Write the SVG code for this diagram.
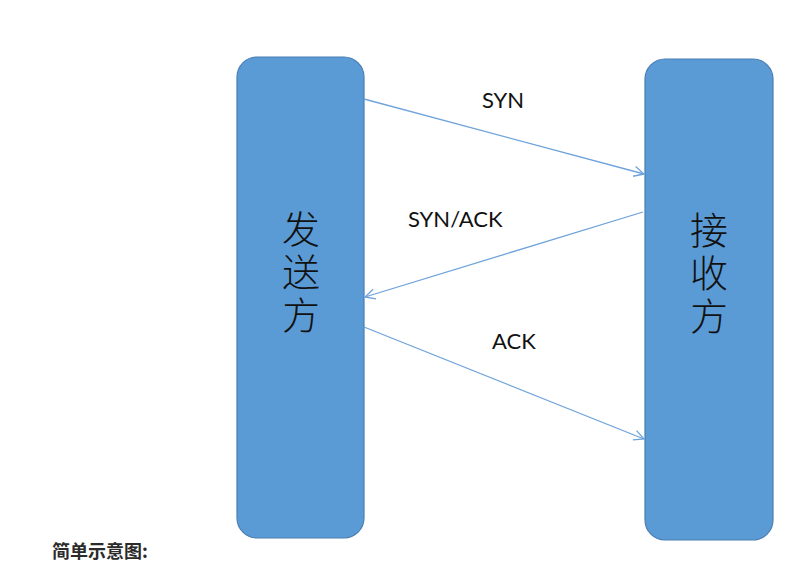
<svg xmlns="http://www.w3.org/2000/svg" width="790" height="577" viewBox="0 0 790 577">
<style>
.node{fill:#5B9BD5;stroke:#4A7EB3;stroke-width:1.2}
.big{font-family:"Noto Sans CJK SC","Noto Sans",sans-serif;font-size:38px;fill:#111;text-anchor:middle;font-weight:300;writing-mode:vertical-rl;letter-spacing:5px}
.lbl{font-family:Lato,"Open Sans",sans-serif;font-size:22px;fill:#111}
.conn{stroke:#6FA3DB;stroke-width:1.3;fill:none;marker-end:url(#arr)}
.cap{font-family:"Noto Sans CJK SC","Noto Sans",sans-serif;font-size:18px;font-weight:bold;fill:#2b2b2b}
</style>
<defs>
<marker id="arr" viewBox="0 0 12 12" refX="11" refY="6" markerWidth="12" markerHeight="12" markerUnits="userSpaceOnUse" orient="auto">
<path d="M1,1 L11,6 L1,11" fill="none" stroke="#6FA3DB" stroke-width="1.3"/>
</marker>
</defs>
<rect width="790" height="577" fill="#fff"/>
<g id="sender">
<rect class="node" x="237" y="57" width="127" height="481" rx="20"/>
<text class="big" x="301" y="274">发送方</text>
</g>
<g id="receiver">
<rect class="node" x="645" y="59" width="128" height="481" rx="20"/>
<text class="big" x="709" y="275">接收方</text>
</g>
<g id="connectors">
<line class="conn" x1="364" y1="99" x2="644" y2="174"/>
<line class="conn" x1="643" y1="212" x2="365" y2="297"/>
<line class="conn" x1="364" y1="327" x2="644" y2="439"/>
</g>
<g id="labels">
<text class="lbl" x="503" y="108" text-anchor="middle">SYN</text>
<text class="lbl" x="408" y="227">SYN/ACK</text>
<text class="lbl" x="492" y="349">ACK</text>
</g>
<text class="cap" x="52" y="558">简单示意图:</text>
</svg>
